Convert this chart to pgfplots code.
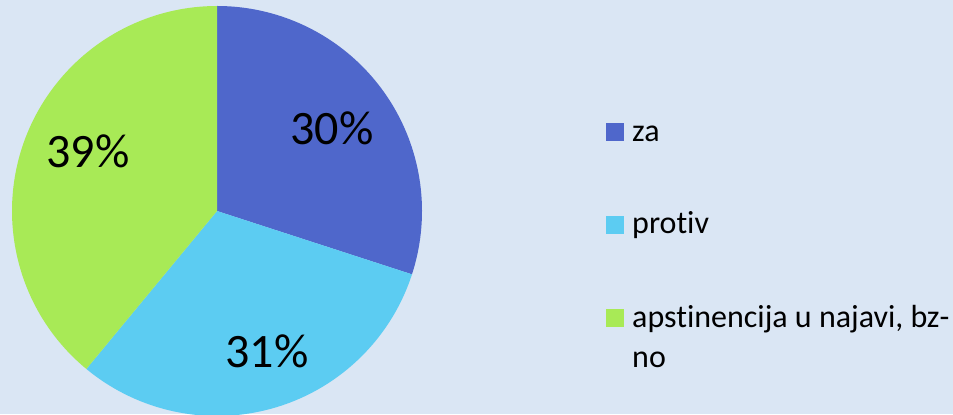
\documentclass[border=0pt]{standalone}
\usepackage{pgfplots}
\pgfplotsset{compat=1.18}
\usepackage{pgfplotstable}
\usepackage{fontspec}
\setmainfont{Carlito}[Ligatures={NoCommon,NoRequired,NoContextual}]
\definecolor{bgc}{RGB}{218,230,244}
\definecolor{cza}{RGB}{79,103,203}
\definecolor{cprotiv}{RGB}{92,204,242}
\definecolor{capst}{RGB}{168,234,86}
% shares in percent
\pgfplotstableread{
name value
za 30
protiv 31
apstinencija 39
}\piedata
\pgfplotstablegetelem{0}{value}\of\piedata \let\vA\pgfplotsretval
\pgfplotstablegetelem{1}{value}\of\piedata \let\vB\pgfplotsretval
\pgfplotstablegetelem{2}{value}\of\piedata \let\vC\pgfplotsretval
\pgfmathsetmacro\aA{90}
\pgfmathsetmacro\aB{\aA-3.6*\vA}
\pgfmathsetmacro\aC{\aB-3.6*\vB}
\pgfmathsetmacro\aD{\aC-3.6*\vC}
\begin{document}
\begin{tikzpicture}[x=1bp,y=1bp]
\fill[bgc] (0,0) rectangle (953,414);
\useasboundingbox (0,0) rectangle (953,414);
\begin{axis}[
  at={(217bp,203bp)}, anchor=center,
  x=205bp, y=205bp,
  xmin=-1, xmax=1, ymin=-1, ymax=1,
  hide axis, clip=false,
]
\fill[cza] (axis cs:0,0) -- (axis cs:{cos(\aA)},{sin(\aA)}) arc[start angle=\aA, end angle=\aB, radius=205bp] -- cycle;
\fill[cprotiv] (axis cs:0,0) -- (axis cs:{cos(\aB)},{sin(\aB)}) arc[start angle=\aB, end angle=\aC, radius=205bp] -- cycle;
\fill[capst] (axis cs:0,0) -- (axis cs:{cos(\aC)},{sin(\aC)}) arc[start angle=\aC, end angle=\aD, radius=205bp] -- cycle;
\node[anchor=base, font=\fontsize{48bp}{56bp}\selectfont] at (axis cs:0.561,0.322) {\vA\%};
\node[anchor=base, font=\fontsize{48bp}{56bp}\selectfont] at (axis cs:0.244,-0.761) {\vB\%};
\node[anchor=base, font=\fontsize{48bp}{56bp}\selectfont] at (axis cs:-0.629,0.210) {\vC\%};
\end{axis}
% legend
\node[fill=cza, minimum size=18bp, inner sep=0, anchor=south west] at (606,273) {};
\node[anchor=base west, inner sep=0, font=\fontsize{32bp}{39bp}\selectfont] at (632,273) {za};
\node[fill=cprotiv, minimum size=18bp, inner sep=0, anchor=south west] at (606,180) {};
\node[anchor=base west, inner sep=0, font=\fontsize{32bp}{39bp}\selectfont] at (632,181) {protiv};
\node[fill=capst, minimum size=18bp, inner sep=0, anchor=south west] at (606,87) {};
\node[anchor=base west, inner sep=0, font=\fontsize{32bp}{39bp}\selectfont] at (632,87) {apstinencija u najavi, bz-};
\node[anchor=base west, inner sep=0, font=\fontsize{32bp}{39bp}\selectfont] at (632,47) {no};
\end{tikzpicture}
\end{document}
